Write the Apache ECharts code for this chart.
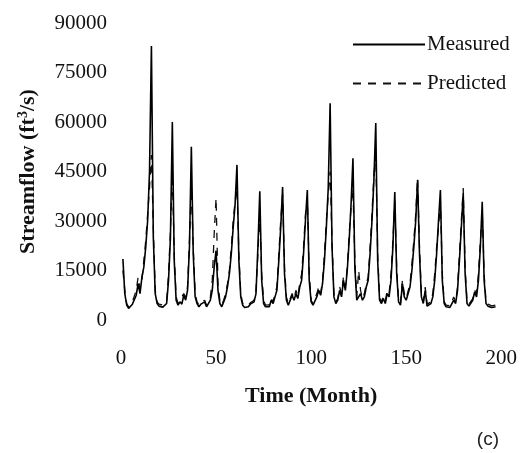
<!DOCTYPE html>
<html>
<head>
<meta charset="utf-8">
<script src="https://cdn.jsdelivr.net/npm/echarts@6/dist/echarts.min.js"></script>
<style>html,body{margin:0;padding:0;background:#fff;}#c{width:520px;height:453px;}</style>
</head>
<body>
<div id="c"></div>
<script>
const xTicks = [0, 50, 100, 150, 200];
const yTicks = [0, 15000, 30000, 45000, 60000, 75000, 90000];
const seriesNames = ['Measured', 'Predicted'];
const measured = [
  18500, 8000, 4500, 3500, 3600, 4800, 4200, 7500, 11000, 8000, 13000, 16000,
  22000, 30000, 45000, 83000, 25000, 8000, 5000, 4200, 4500, 3900, 4300, 5000,
  12000, 25000, 60000, 18000, 6000, 4500, 5500, 4800, 7500, 6000, 9000, 22000,
  52500, 20000, 7000, 5000, 4000, 4800, 4200, 5500, 4000, 3800, 6000, 9000,
  16000, 21000, 9000, 5000, 4000, 5500, 7000, 10000, 14000, 20000, 28000, 35000,
  47000, 18000, 7000, 4500, 3800, 4200, 4000, 4800, 4200, 5500, 8000, 22000,
  39000, 12000, 5000, 4000, 4500, 4000, 6000, 5000, 7000, 9000, 18000, 28000,
  40300, 14000, 6000, 4500, 5000, 7500, 6000, 8000, 6500, 10000, 12000, 20000,
  30000, 39400, 12000, 5500, 4500, 5000, 7000, 9000, 7500, 11000, 18000, 28000,
  40000, 65700, 22000, 7000, 5000, 6000, 9000, 7000, 12000, 9000, 15000, 24000,
  35000, 49000, 16000, 6000, 5500, 8000, 6000, 7000, 10000, 12000, 20000, 30000,
  42000, 59700, 18000, 6000, 5000, 6500, 5000, 8000, 7000, 12000, 22000, 38800,
  14000, 5500, 4500, 11000, 7000, 6000, 6500, 10000, 15000, 22000, 30000, 42400,
  20000, 7000, 5000, 9000, 4200, 3800, 5000, 7000, 12000, 20000, 30000, 39400,
  12000, 5000, 4000, 4500, 3800, 4200, 6000, 5000, 9000, 18000, 28000, 38500,
  14000, 5000, 4200, 4000, 6000, 8500, 7000, 12000, 22000, 35800, 12000, 5000,
  4200, 4500, 3800, 4300, 4000
];
const predicted = [
  15000, 9000, 5000, 4000, 4200, 5500, 5000, 9000, 13000, 9500, 12000, 18000,
  24000, 32000, 40000, 50000, 28000, 9000, 5500, 4800, 5000, 4500, 4800, 5500,
  14000, 27000, 45000, 20000, 7000, 5000, 6000, 5500, 8000, 7000, 10000, 24000,
  40000, 22000, 8000, 5500, 4500, 5200, 4800, 6000, 4500, 4300, 7000, 12000,
  26000, 37000, 11000, 6000, 4500, 6000, 8000, 11000, 15000, 22000, 30000, 36000,
  40000, 20000, 8000, 5000, 4300, 4800, 4500, 5200, 4800, 6000, 9000, 20000,
  32000, 14000, 6000, 4500, 5000, 4600, 6500, 5500, 8000, 10000, 20000, 30000,
  38000, 16000, 7000, 5000, 5500, 8000, 6500, 9000, 7000, 11000, 14000, 22000,
  32000, 37000, 14000, 6000, 5000, 5500, 8000, 10000, 8000, 12000, 20000, 30000,
  38000, 45000, 24000, 8000, 5500, 6500, 10000, 8000, 13000, 10000, 16000, 26000,
  34000, 40000, 18000, 7000, 15000, 9000, 6500, 8000, 11000, 13000, 22000, 32000,
  44000, 50000, 20000, 7000, 5500, 7000, 5500, 9000, 8000, 14000, 24000, 36000,
  16000, 6000, 5000, 12000, 8000, 6500, 7000, 11000, 17000, 24000, 32000, 43000,
  22000, 8000, 5500, 10000, 4800, 4300, 5500, 8000, 14000, 22000, 28000, 36000,
  14000, 5500, 4500, 5000, 4300, 4800, 7000, 5500, 10000, 20000, 30000, 40000,
  16000, 5500, 4800, 4500, 6500, 9000, 8000, 14000, 24000, 33000, 14000, 5500,
  4800, 5000, 4300, 4800, 4500
];

const serif = 'Liberation Serif';
const chart = echarts.init(document.getElementById('c'), null, {renderer: 'canvas'});
chart.setOption({
  animation: false,
  backgroundColor: '#fff',
  grid: {left: 121, right: 16, top: 23, bottom: 133, containLabel: false},
  legend: {
    orient: 'vertical',
    left: 347,
    top: 29,
    itemWidth: 72,
    itemHeight: 8,
    itemGap: 18,
    data: seriesNames,
    itemStyle: {opacity: 0},
    textStyle: {fontFamily: serif, fontSize: 21, color: '#111', padding: [0, 0, 0, -3]}
  },
  xAxis: {
    type: 'value',
    min: xTicks[0],
    max: xTicks[xTicks.length - 1],
    interval: 50,
    axisLine: {show: false},
    axisTick: {show: false},
    splitLine: {show: false},
    axisLabel: {fontFamily: serif, fontSize: 21, color: '#111', margin: 28, formatter: v => String(v)},
    name: 'Time (Month)',
    nameLocation: 'middle',
    nameGap: 65,
    nameTextStyle: {fontFamily: serif, fontSize: 22, fontWeight: 'bold', color: '#111'}
  },
  yAxis: {
    type: 'value',
    min: yTicks[0],
    max: yTicks[yTicks.length - 1],
    interval: 15000,
    axisLine: {show: false},
    axisTick: {show: false},
    splitLine: {show: false},
    axisLabel: {fontFamily: serif, fontSize: 21, color: '#111', margin: 14, formatter: v => String(v)},
    name: '{a|Streamflow (ft}{s|3}{a|/s)}',
    nameLocation: 'middle',
    nameGap: 81,
    nameTextStyle: {
      rich: {
        a: {fontFamily: serif, fontSize: 22, fontWeight: 'bold', color: '#111'},
        s: {fontFamily: serif, fontSize: 14, fontWeight: 'bold', color: '#111', verticalAlign: 'top', padding: [0, 0, 10, 0]}
      }
    }
  },
  series: [
    {
      name: seriesNames[0],
      type: 'line',
      symbol: 'none',
      data: measured.map((v, i) => [i + 1, v]),
      lineStyle: {color: '#000', width: 1.6},
      itemStyle: {color: '#000'},
      z: 3
    },
    {
      name: seriesNames[1],
      type: 'line',
      symbol: 'none',
      data: predicted.map((v, i) => [i + 1, v]),
      lineStyle: {color: '#111', width: 1.3, type: [8, 7]},
      itemStyle: {color: '#111'},
      z: 2
    }
  ],
  graphic: [
    {type: 'text', right: 21, bottom: 4, style: {text: '(c)', fontFamily: 'Liberation Sans', fontSize: 19, fill: '#222'}}
  ]
});
</script>
</body>
</html>
